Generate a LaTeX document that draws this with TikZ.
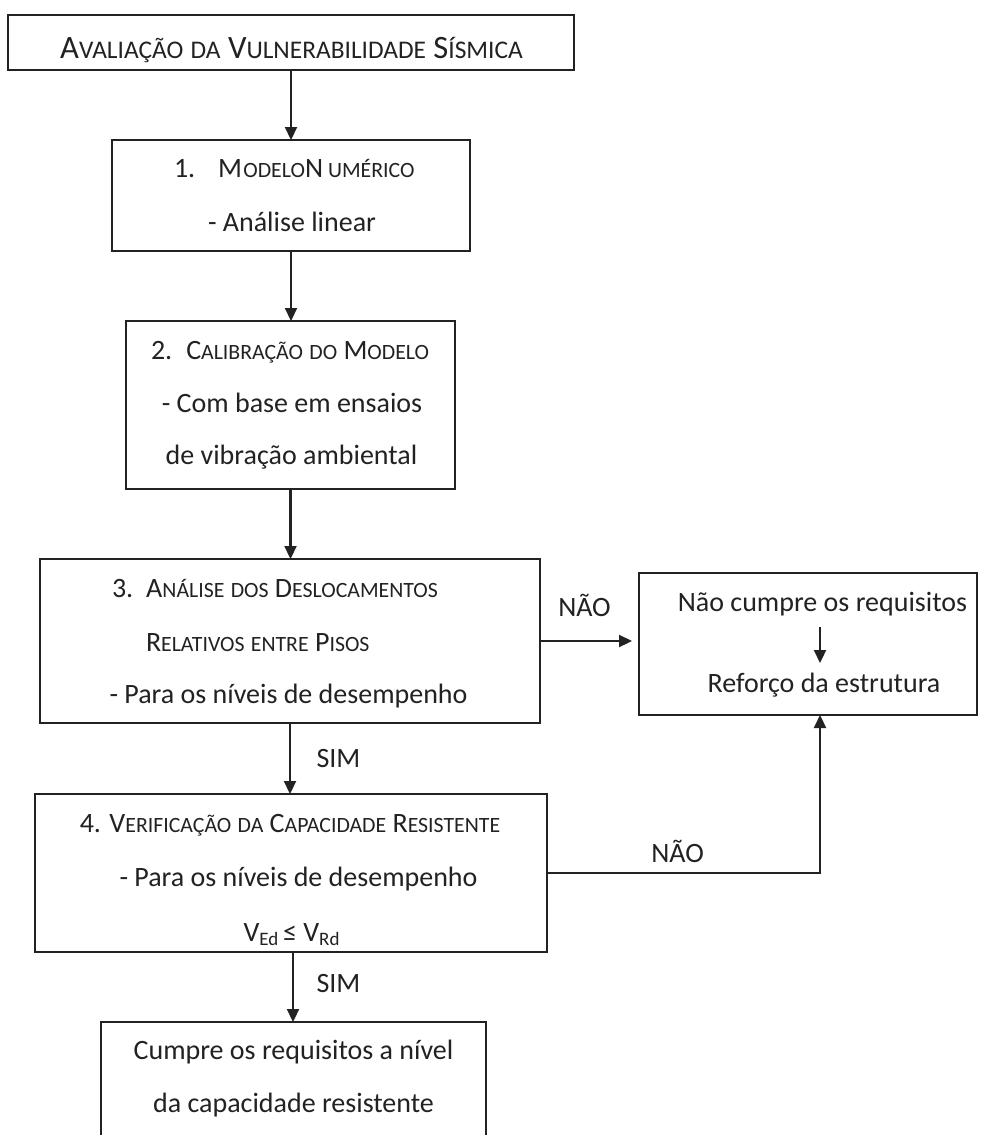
\documentclass[tikz,border=0pt]{standalone}
\usepackage{fontspec}
\setmainfont{Carlito}
\usetikzlibrary{arrows.meta}
\definecolor{ink}{HTML}{222222}
\newcommand\smB[1]{{\fontsize{10.9}{10.9}\selectfont #1}}
\newcommand\smT[1]{{\fontsize{12.7}{12.7}\selectfont #1}}
\newcommand\subS[1]{\raisebox{-0.35ex}{\fontsize{9.5}{9.5}\selectfont #1}}
\begin{document}
\begin{tikzpicture}[x=0.5pt,y=-0.5pt,
  box/.style={draw=ink,line width=1.1pt,inner sep=0pt,outer sep=0pt},
  txt/.style={inner sep=0pt,outer sep=0pt,text=ink,font=\fontsize{14}{14}\selectfont},
  ttl/.style={txt,font=\fontsize{16.3}{16.3}\selectfont},
  arr/.style={draw=ink,line width=1.1pt,-{Triangle[length=6.5pt,width=6pt]}},
  ln/.style={draw=ink,line width=1.1pt}]
\fill[white] (0,0) rectangle (988,1135);
\useasboundingbox (0,0) rectangle (988,1135);
\clip (0,0) rectangle (988,1135);

% boxes
\node[box,minimum width=283pt,minimum height=27.5pt] (title) at (291,42.5) {};
\node[box,minimum width=179pt,minimum height=55.5pt] (box1) at (291,195.5) {};
\node[box,minimum width=164.5pt,minimum height=84pt] (box2) at (290.5,405) {};
\node[box,minimum width=250pt,minimum height=82pt] (box3) at (290,641) {};
\node[box,minimum width=169pt,minimum height=71pt] (rbox) at (808,644) {};
\node[box,minimum width=256pt,minimum height=79pt] (box4) at (291,873) {};
\node[box,minimum width=192.5pt,minimum height=64pt] (final) at (293.5,1086) {};

% texts
\node[ttl,anchor=base] (t0) at (291.5,58.5) {A\smT{VALIAÇÃO} \smT{DA} V\smT{ULNERABILIDADE} S\smT{ÍSMICA}};

\node[txt,anchor=base west] (t11) at (174,177) {1.\hspace{11.5pt}M\kern0.6pt\smB{ODELO}N\kern2.5pt\smB{UMÉRICO}};
\node[txt,anchor=base] (t12) at (292,231) {- Análise linear};

\node[txt,anchor=base west] (t21) at (151,359) {2.\hspace{7pt}C\smB{ALIBRAÇÃO} \smB{DO} M\smB{ODELO}};
\node[txt,anchor=base] (t22) at (292,412) {- Com base em ensaios};
\node[txt,anchor=base] (t23) at (291.5,464) {de vibração ambiental};

\node[txt,anchor=base west] (t31) at (112,597) {3.\hspace{6.5pt}A\smB{NÁLISE} \smB{DOS} D\smB{ESLOCAMENTOS}};
\node[txt,anchor=base west] (t32) at (146,651) {R\smB{ELATIVOS} \smB{ENTRE} P\smB{ISOS}};
\node[txt,anchor=base] (t33) at (288.5,703) {- Para os níveis de desempenho};

\node[txt,anchor=base] (r1) at (822.5,611) {Não cumpre os requisitos};
\node[txt,anchor=base] (r2) at (824,692) {Reforço da estrutura};

\node[txt,anchor=base] (t41) at (290,832) {4. V\smB{ERIFICAÇÃO} \smB{DA} C\smB{APACIDADE} R\smB{ESISTENTE}};
\node[txt,anchor=base] (t42) at (298.5,886) {- Para os níveis de desempenho};
\node[txt,anchor=base] (t43) at (291.5,941) {V\subS{Ed}\,≤ V\subS{Rd}};

\node[txt,anchor=base] (f1) at (293.5,1059) {Cumpre os requisitos a nível};
\node[txt,anchor=base] (f2) at (293.5,1112) {da capacidade resistente};

% labels
\node[txt,anchor=base] (nao1) at (584.5,616) {NÃO};
\node[txt,anchor=base] (sim1) at (338.5,767) {SIM};
\node[txt,anchor=base] (nao2) at (677.5,862) {NÃO};
\node[txt,anchor=base] (sim2) at (338.5,992) {SIM};

% connectors
\draw[arr] (title.south) -- (title.south |- box1.north);
\draw[arr] (box1.south) -- (box1.south |- box2.north);
\draw[arr] (box2.south) -- (box2.south |- box3.north);
\draw[arr] (box3.south) -- (box3.south |- box4.north);
\draw[arr] ([xshift=1pt]box4.south) -- ([xshift=1pt]box4.south |- final.north);
\draw[arr,shorten >=3.5pt] (box3.east) -- (box3.east -| rbox.west);
\draw[arr] (box4.east) -| ([xshift=6pt]rbox.south);
\coordinate (ia1) at (820,627);
\coordinate (ia2) at (820,663);
\draw[arr] (ia1) -- (ia2);
\end{tikzpicture}
\end{document}
